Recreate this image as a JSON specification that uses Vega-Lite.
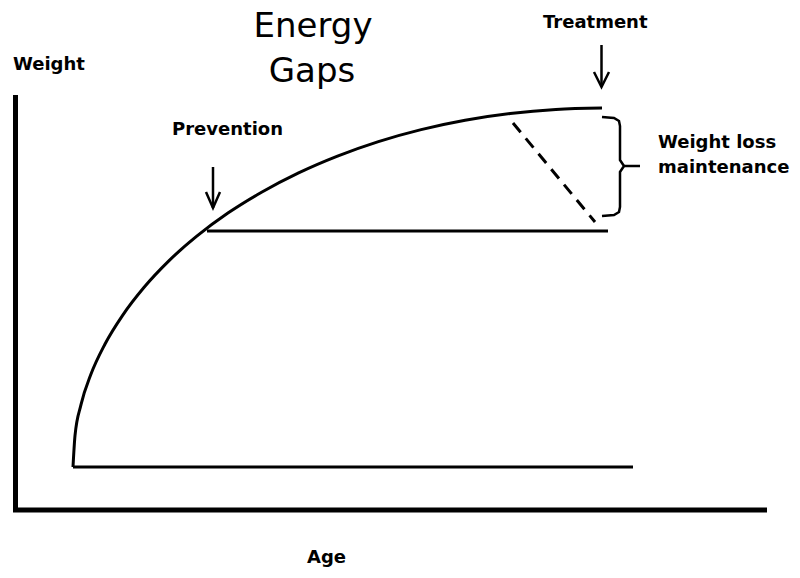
{
  "$schema": "https://vega.github.io/schema/vega-lite/v6.json",
  "width": 800,
  "height": 578,
  "autosize": {"type": "fit", "contains": "padding"},
  "padding": 0,
  "background": "white",
  "config": {"view": {"stroke": null}},
  "datasets": {
    "axes": [
      {"id": "axes", "i": 0, "age": 0.5, "weight": 415},
      {"id": "axes", "i": 1, "age": 0.5, "weight": 0},
      {"id": "axes", "i": 2, "age": 752, "weight": 0}
    ],
    "curves": [
      {"id": "curve", "i": 0, "age": 58, "weight": 43},
      {"id": "curve", "i": 1, "age": 60.0, "weight": 74.3},
      {"id": "curve", "i": 2, "age": 66.0, "weight": 105.3},
      {"id": "curve", "i": 3, "age": 76.0, "weight": 135.9},
      {"id": "curve", "i": 4, "age": 89.9, "weight": 165.8},
      {"id": "curve", "i": 5, "age": 107.6, "weight": 194.7},
      {"id": "curve", "i": 6, "age": 128.9, "weight": 222.5},
      {"id": "curve", "i": 7, "age": 153.6, "weight": 248.9},
      {"id": "curve", "i": 8, "age": 181.8, "weight": 273.8},
      {"id": "curve", "i": 9, "age": 212.9, "weight": 296.9},
      {"id": "curve", "i": 10, "age": 247.0, "weight": 318.0},
      {"id": "curve", "i": 11, "age": 283.6, "weight": 337.1},
      {"id": "curve", "i": 12, "age": 322.5, "weight": 353.9},
      {"id": "curve", "i": 13, "age": 363.4, "weight": 368.4},
      {"id": "curve", "i": 14, "age": 406.1, "weight": 380.4},
      {"id": "curve", "i": 15, "age": 450.1, "weight": 389.8},
      {"id": "curve", "i": 16, "age": 495.2, "weight": 396.5},
      {"id": "curve", "i": 17, "age": 540.9, "weight": 400.6},
      {"id": "curve", "i": 18, "age": 587, "weight": 402},
      {"id": "base", "i": 0, "age": 58, "weight": 43},
      {"id": "base", "i": 1, "age": 618, "weight": 43},
      {"id": "prevented", "i": 0, "age": 192, "weight": 279},
      {"id": "prevented", "i": 1, "age": 593, "weight": 279}
    ],
    "dashed": [
      {"id": "regain", "i": 0, "age": 498, "weight": 387},
      {"id": "regain", "i": 1, "age": 580, "weight": 288}
    ],
    "thin": [
      {"id": "tshaft", "i": 0, "age": 586.5, "weight": 465},
      {"id": "tshaft", "i": 1, "age": 586.5, "weight": 423},
      {"id": "thead", "i": 0, "age": 579, "weight": 438},
      {"id": "thead", "i": 1, "age": 586.5, "weight": 423},
      {"id": "thead", "i": 2, "age": 594, "weight": 438},
      {"id": "pshaft", "i": 0, "age": 198, "weight": 343},
      {"id": "pshaft", "i": 1, "age": 198, "weight": 302},
      {"id": "phead", "i": 0, "age": 191, "weight": 318},
      {"id": "phead", "i": 1, "age": 198, "weight": 302},
      {"id": "phead", "i": 2, "age": 205, "weight": 318},
      {"id": "brace", "i": 0, "age": 587, "weight": 393},
      {"id": "brace", "i": 1, "age": 599, "weight": 392},
      {"id": "brace", "i": 2, "age": 604, "weight": 389},
      {"id": "brace", "i": 3, "age": 605, "weight": 384},
      {"id": "brace", "i": 4, "age": 605, "weight": 350},
      {"id": "brace", "i": 5, "age": 609, "weight": 344},
      {"id": "brace", "i": 6, "age": 605, "weight": 338},
      {"id": "brace", "i": 7, "age": 605, "weight": 303},
      {"id": "brace", "i": 8, "age": 604, "weight": 298},
      {"id": "brace", "i": 9, "age": 599, "weight": 295},
      {"id": "brace", "i": 10, "age": 587, "weight": 294},
      {"id": "btip", "i": 0, "age": 609, "weight": 344},
      {"id": "btip", "i": 1, "age": 625, "weight": 344}
    ],
    "title": [
      {"label": "Energy", "age": 298, "weight": 473},
      {"label": "Gaps", "age": 297, "weight": 428}
    ],
    "labels": [
      {"label": "Weight", "age": -2, "weight": 440},
      {"label": "Prevention", "age": 157, "weight": 375},
      {"label": "Treatment", "age": 528, "weight": 482},
      {"label": "Weight loss", "age": 643, "weight": 362},
      {"label": "maintenance", "age": 643, "weight": 337},
      {"label": "Age", "age": 292, "weight": -53}
    ]
  },
  "encoding": {
    "x": {"field": "age", "type": "quantitative", "scale": {"domain": [-15, 785], "nice": false, "zero": false}, "axis": null},
    "y": {"field": "weight", "type": "quantitative", "scale": {"domain": [-68, 510], "nice": false, "zero": false}, "axis": null}
  },
  "layer": [
    {
      "data": {"name": "axes"},
      "mark": {"type": "line", "color": "black", "strokeWidth": 5, "strokeJoin": "miter", "strokeCap": "butt"},
      "encoding": {"detail": {"field": "id"}, "order": {"field": "i", "type": "quantitative"}}
    },
    {
      "data": {"name": "curves"},
      "mark": {"type": "line", "color": "black", "strokeWidth": 3, "interpolate": "monotone"},
      "encoding": {"detail": {"field": "id"}, "order": {"field": "i", "type": "quantitative"}}
    },
    {
      "data": {"name": "dashed"},
      "mark": {"type": "line", "color": "black", "strokeWidth": 3, "strokeDash": [12, 8]},
      "encoding": {"detail": {"field": "id"}, "order": {"field": "i", "type": "quantitative"}}
    },
    {
      "data": {"name": "thin"},
      "mark": {"type": "line", "color": "black", "strokeWidth": 2.5, "strokeJoin": "miter"},
      "encoding": {"detail": {"field": "id"}, "order": {"field": "i", "type": "quantitative"}}
    },
    {
      "data": {"name": "title"},
      "mark": {"type": "text", "font": "DejaVu Sans", "fontSize": 34, "align": "center", "baseline": "alphabetic", "color": "black"},
      "encoding": {"text": {"field": "label"}}
    },
    {
      "data": {"name": "labels"},
      "mark": {"type": "text", "font": "DejaVu Sans", "fontWeight": "bold", "fontSize": 18, "align": "left", "baseline": "alphabetic", "color": "black"},
      "encoding": {"text": {"field": "label"}}
    }
  ]
}
